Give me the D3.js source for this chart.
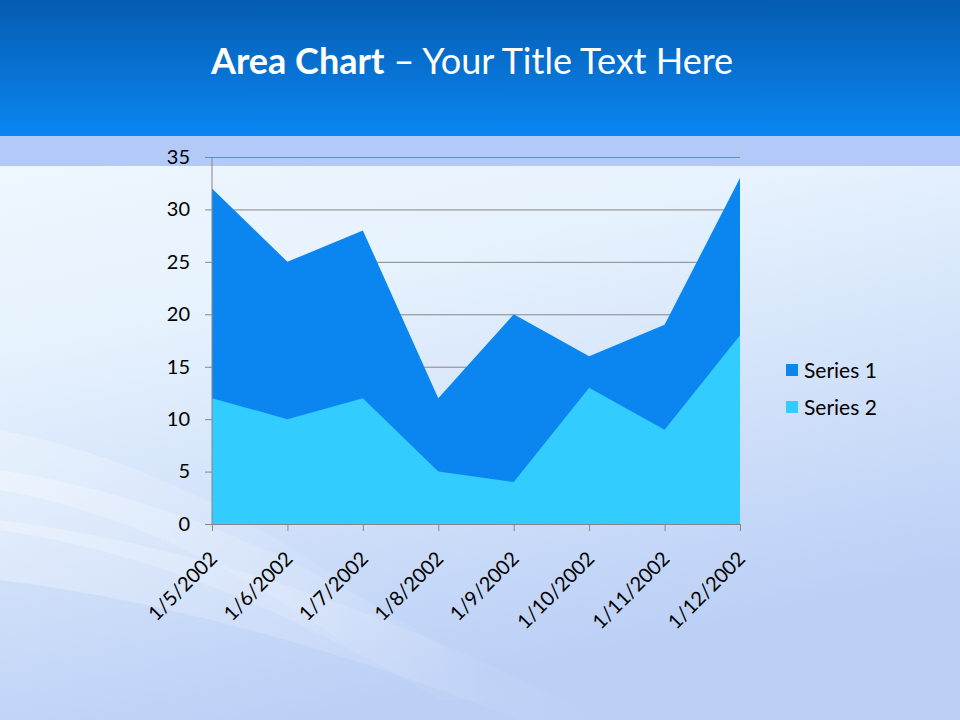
<!DOCTYPE html>
<html><head><meta charset="utf-8">
<script src="https://cdn.jsdelivr.net/npm/d3@7/dist/d3.min.js"></script>
<style>html,body{margin:0;padding:0;}svg{display:block;}</style>
</head><body>
<script>
const categories = ["1/5/2002","1/6/2002","1/7/2002","1/8/2002","1/9/2002","1/10/2002","1/11/2002","1/12/2002"];
const series1 = [32, 25, 28, 12, 20, 16, 19, 33];
const series2 = [12, 10, 12, 5, 4, 13, 9, 18];
const seriesNames = ["Series 1", "Series 2"];
const yTicks = [0, 5, 10, 15, 20, 25, 30, 35];

(function(){
const W = 960, H = 720;
const font = "Lato, 'Open Sans', sans-serif";
const svg = d3.select("body").append("svg").attr("width", W).attr("height", H);
const defs = svg.append("defs");

const hg = defs.append("linearGradient").attr("id","hg").attr("x1",0).attr("y1",0).attr("x2",0).attr("y2",1);
hg.append("stop").attr("offset","0%").attr("stop-color","#055cb0");
hg.append("stop").attr("offset","100%").attr("stop-color","#0a86f2");

const bg = defs.append("linearGradient").attr("id","bg").attr("x1",0).attr("y1",0).attr("x2",0.3).attr("y2",1);
bg.append("stop").attr("offset","0%").attr("stop-color","#f6faff");
bg.append("stop").attr("offset","45%").attr("stop-color","#e6f2fd");
bg.append("stop").attr("offset","100%").attr("stop-color","#bcd0f6");

const sw = defs.append("linearGradient").attr("id","sw").attr("x1",0).attr("y1",0).attr("x2",1).attr("y2",0);
sw.append("stop").attr("offset","0%").attr("stop-color","#ffffff").attr("stop-opacity",0.55);
sw.append("stop").attr("offset","100%").attr("stop-color","#ffffff").attr("stop-opacity",0);

svg.append("rect").attr("width",W).attr("height",H).attr("fill","url(#bg)");
[[0,470,520,700],[0,520,600,720],[0,430,420,640]].forEach((s)=>{
  svg.append("path")
    .attr("d",`M${s[0]},${s[1]} Q${s[2]*0.5},${s[1]+40} ${s[2]},${s[3]} L${s[2]-80},${s[3]} Q${s[2]*0.4},${s[1]+90} 0,${s[1]+60}Z`)
    .attr("fill","url(#sw)").attr("opacity",0.5);
});
svg.append("rect").attr("width",W).attr("height",136).attr("fill","url(#hg)");
svg.append("rect").attr("y",136).attr("width",W).attr("height",30).attr("fill","#b3c9f8");

const title = svg.append("text").attr("x",472).attr("y",74).attr("text-anchor","middle")
  .attr("fill","#ffffff").style("font-family",font).style("font-size","36px");
title.append("tspan").attr("font-weight","bold").text("Area Chart");
title.append("tspan").text(" \u2013 Your Title Text Here");

const pL = 212, pR = 740, pT = 157, pB = 524;
const x = d3.scalePoint().domain(categories).range([pL, pR]);
const y = d3.scaleLinear().domain([0, 35]).range([pB, pT]);

svg.append("g").attr("transform",`translate(${pL},0)`)
  .call(d3.axisLeft(y).tickValues(yTicks).tickSize(-(pR-pL)).tickFormat(""))
  .call(g=>g.select(".domain").remove())
  .call(g=>g.selectAll("line").attr("stroke","#868686").attr("stroke-width",1));

const area = d3.area().x((d,i)=>x(categories[i])).y0(y(0)).y1(d=>y(d));
svg.append("path").datum(series1).attr("d",area).attr("fill","#0b86f0");
svg.append("path").datum(series2).attr("d",area).attr("fill","#33ccff");

const ya = svg.append("g").attr("transform",`translate(${pL},0)`)
  .call(d3.axisLeft(y).tickValues(yTicks).tickSize(7).tickPadding(15));
ya.select(".domain").attr("stroke","#868686").attr("d",`M0,${pT}V${pB}`);
ya.selectAll("line").attr("stroke","#868686");
ya.selectAll("text").attr("fill","#000").style("font-family",font).style("font-size","20px");

const xa = svg.append("g").attr("transform",`translate(0,${pB})`)
  .call(d3.axisBottom(x).tickSize(7).tickSizeOuter(0));
xa.select(".domain").attr("stroke","#868686");
xa.selectAll("line").attr("stroke","#868686");
xa.selectAll("text").attr("fill","#000").style("font-family",font).style("font-size","20px")
  .attr("text-anchor","end").attr("dy","0").attr("y",0)
  .attr("transform","translate(6,36) rotate(-45)");

const lg = svg.append("g");
seriesNames.forEach((n,i)=>{
  const yy = 371 + i*37;
  lg.append("rect").attr("x",786).attr("y",yy-7).attr("width",12).attr("height",12)
    .attr("fill", i===0 ? "#0b86f0" : "#33ccff");
  lg.append("text").attr("x",804).attr("y",yy+7).text(n).attr("fill","#000")
    .style("font-family",font).style("font-size","21px");
});
})();
</script>
</body></html>
